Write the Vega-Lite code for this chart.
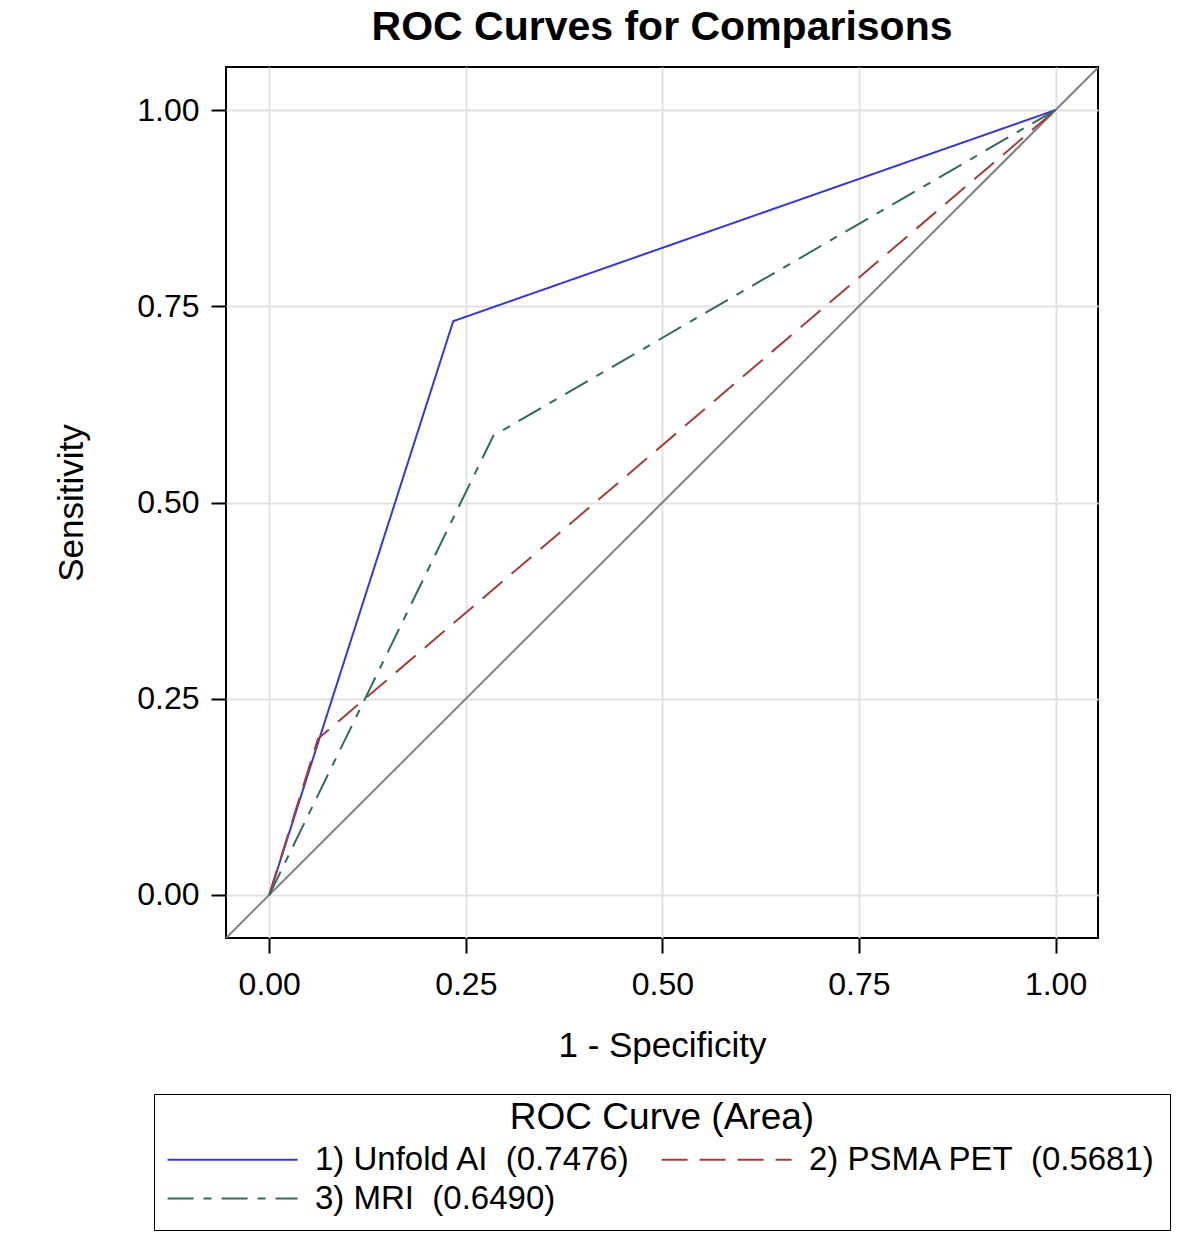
{
  "$schema": "https://vega.github.io/schema/vega-lite/v6.json",
  "autosize": "none",
  "width": 872,
  "height": 871,
  "padding": {"left": 226, "top": 67, "right": 102, "bottom": 295},
  "background": "white",
  "title": {"text": "ROC Curves for Comparisons", "font": "Liberation Sans", "fontSize": 41, "fontWeight": "bold", "color": "black", "offset": 18, "anchor": "middle"},
  "config": {
    "view": {"stroke": "black", "strokeWidth": 2},
    "axis": {
      "labelFont": "Liberation Sans", "labelFontSize": 32, "labelColor": "black",
      "titleFont": "Liberation Sans", "titleFontSize": 35, "titleFontWeight": "normal", "titleColor": "black",
      "domain": false, "tickColor": "black", "tickWidth": 2, "tickSize": 15,
      "gridColor": "#e2e2e2", "gridWidth": 2
    },
    "legend": {
      "titleFont": "Liberation Sans", "titleFontSize": 37, "titleFontWeight": "normal", "titleColor": "black",
      "labelFont": "Liberation Sans", "labelFontSize": 33, "labelColor": "black"
    }
  },
  "layer": [
    {
      "data": {"values": [{"x": -0.1, "y": -0.1}, {"x": 1.1, "y": 1.1}]},
      "mark": {"type": "line", "color": "#808080", "strokeWidth": 2, "clip": true},
      "encoding": {
        "x": {"field": "x", "type": "quantitative"},
        "y": {"field": "y", "type": "quantitative"}
      }
    },
    {
      "data": {"values": [
        {"s": "1) Unfold AI\u00a0\u00a0(0.7476)", "x": 0, "y": 0},
        {"s": "1) Unfold AI\u00a0\u00a0(0.7476)", "x": 0.234, "y": 0.731},
        {"s": "1) Unfold AI\u00a0\u00a0(0.7476)", "x": 1, "y": 1},
        {"s": "2) PSMA PET\u00a0\u00a0(0.5681)", "x": 0, "y": 0},
        {"s": "2) PSMA PET\u00a0\u00a0(0.5681)", "x": 0.062, "y": 0.199},
        {"s": "2) PSMA PET\u00a0\u00a0(0.5681)", "x": 1, "y": 1},
        {"s": "3) MRI\u00a0\u00a0(0.6490)", "x": 0, "y": 0},
        {"s": "3) MRI\u00a0\u00a0(0.6490)", "x": 0.285, "y": 0.585},
        {"s": "3) MRI\u00a0\u00a0(0.6490)", "x": 1, "y": 1}
      ]},
      "mark": {"type": "line", "strokeWidth": 2, "clip": true},
      "encoding": {
        "x": {"field": "x", "type": "quantitative", "title": "1 - Specificity",
          "scale": {"domain": [-0.055, 1.054], "nice": false, "zero": false},
          "axis": {"values": [0, 0.25, 0.5, 0.75, 1], "format": ".2f", "labelPadding": 16, "titlePadding": 28}},
        "y": {"field": "y", "type": "quantitative", "title": "Sensitivity",
          "scale": {"domain": [-0.0548, 1.0548], "nice": false, "zero": false},
          "axis": {"values": [0, 0.25, 0.5, 0.75, 1], "format": ".2f", "labelPadding": 12, "titlePadding": 47}},
        "color": {"field": "s", "type": "nominal", "title": "ROC Curve (Area)",
          "scale": {"domain": ["1) Unfold AI\u00a0\u00a0(0.7476)", "2) PSMA PET\u00a0\u00a0(0.5681)", "3) MRI\u00a0\u00a0(0.6490)"], "range": ["#3838da", "#a83a3a", "#2f6b5e"]},
          "legend": {"orient": "none", "legendX": -72, "legendY": 1027, "direction": "horizontal", "columns": 2,
            "symbolType": "M-1.3,0H8.7", "symbolSize": 676, "symbolStrokeWidth": 2,
            "labelLimit": 0, "titleLimit": 0, "labelOffset": 114, "columnPadding": 26, "rowPadding": 5,
            "titleAnchor": "middle", "titleBaseline": "line-top", "titleLineHeight": 20, "titlePadding": -2,
            "strokeColor": "black", "padding": 14}},
        "strokeDash": {"field": "s", "type": "nominal",
          "scale": {"domain": ["1) Unfold AI\u00a0\u00a0(0.7476)", "2) PSMA PET\u00a0\u00a0(0.5681)", "3) MRI\u00a0\u00a0(0.6490)"], "range": [[1, 0], [26, 12], [26, 10, 8, 10]]},
          "legend": null}
      }
    }
  ]
}
